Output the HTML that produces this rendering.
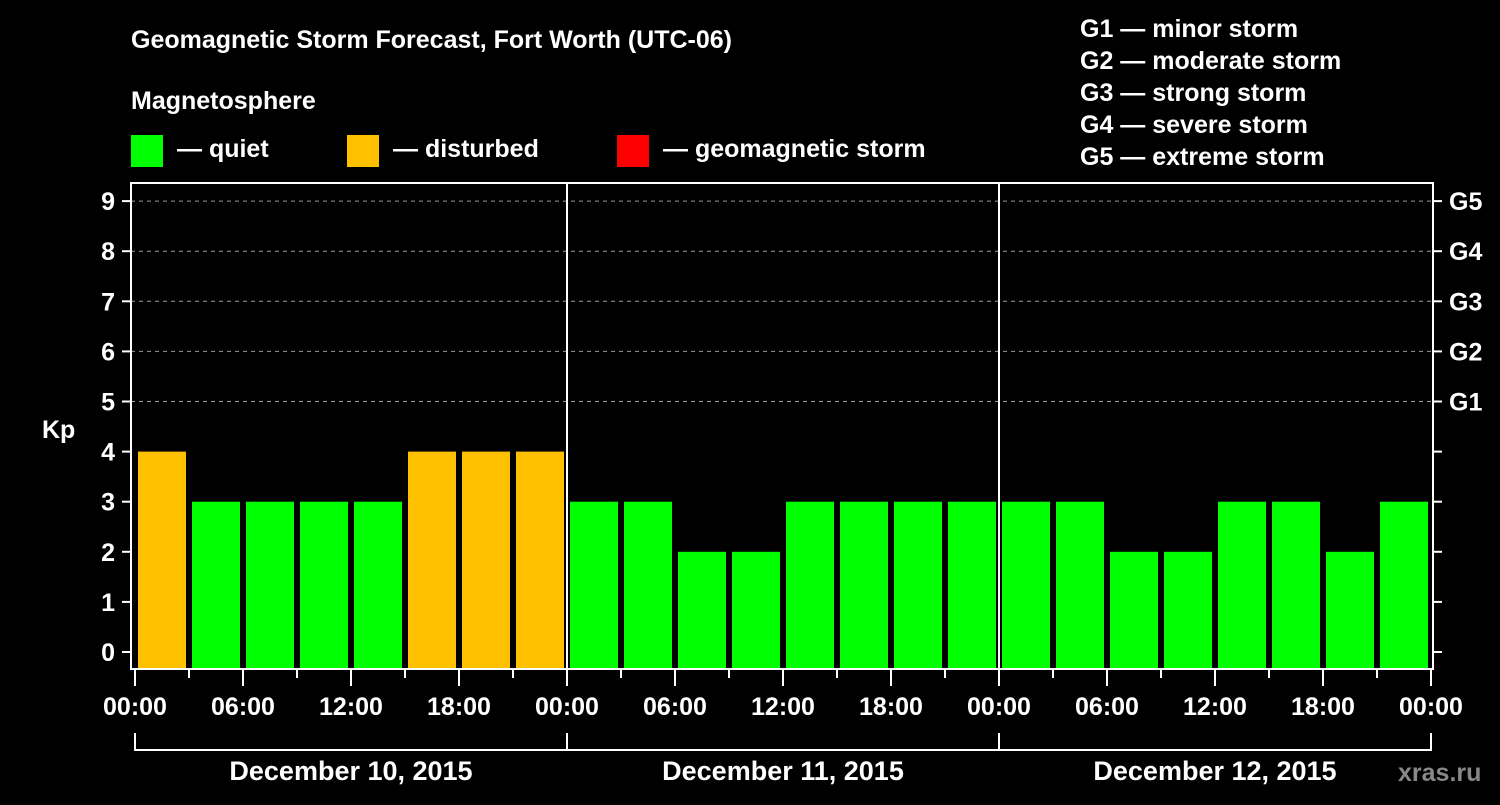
<!DOCTYPE html>
<html><head><meta charset="utf-8"><style>
body{margin:0;background:#000;width:1500px;height:800px;overflow:hidden}
text{font-family:"Liberation Sans",Arial,sans-serif;font-weight:bold;fill:#fff}
</style></head><body>
<svg id="chart" width="1500" height="800" xmlns="http://www.w3.org/2000/svg">
<rect width="1500" height="800" fill="#000"/>
<text x="131" y="48" font-size="25">Geomagnetic Storm Forecast, Fort Worth (UTC-06)</text>
<text x="131" y="109" font-size="25">Magnetosphere</text>
<g>
<rect x="131" y="135" width="32" height="32" fill="#00ff00"/>
<text x="177" y="157" font-size="25">— quiet</text>
<rect x="347" y="135" width="32" height="32" fill="#ffc000"/>
<text x="393" y="157" font-size="25">— disturbed</text>
<rect x="617" y="135" width="32" height="32" fill="#ff0000"/>
<text x="663" y="157" font-size="25">— geomagnetic storm</text>
</g>
<g font-size="25">
<text x="1080" y="37">G1 — minor storm</text>
<text x="1080" y="69">G2 — moderate storm</text>
<text x="1080" y="101">G3 — strong storm</text>
<text x="1080" y="133">G4 — severe storm</text>
<text x="1080" y="165">G5 — extreme storm</text>
</g>
<g id="plot"></g>
<text x="42" y="438" font-size="25">Kp</text>
<text x="1398" y="781" font-size="25" fill="#888" style="fill:#888">xras.ru</text>
</svg>
<script>
const days=["December 10, 2015","December 11, 2015","December 12, 2015"];
const kpValues=[4,3,3,3,3,4,4,4, 3,3,2,2,3,3,3,3, 3,3,2,2,3,3,2,3];
const yTicks=[0,1,2,3,4,5,6,7,8,9];
const gLabels=["G1","G2","G3","G4","G5"];
const hourLabels=["00:00","06:00","12:00","18:00"];
const NS="http://www.w3.org/2000/svg";
const plot=document.getElementById('plot');
const X0=135,dayW=432,L=131,R=1433,T=183,B=669;
const xPos=h=>X0+h*dayW/24;
const yPos=v=>652-v*50.1;
function mk(tag,a,p){const e=document.createElementNS(NS,tag);for(const k in a)e.setAttribute(k,a[k]);(p||plot).appendChild(e);return e;}
// grid
for(let v=5;v<=9;v++){
  const l=mk('line',{x1:L,x2:R,y1:yPos(v),y2:yPos(v),stroke:'#999','stroke-dasharray':'4,4','stroke-width':1});
  
  
}
// bars
kpValues.forEach((v,i)=>{
  const x=xPos(i*3)+3,w=xPos(3)-xPos(0)-6;
  const c=v>=5?'#ff0000':(v>=4?'#ffc000':'#00ff00');
  const r=mk('rect',{x:x,y:yPos(v),width:w,height:B-yPos(v),fill:c});
  
  
});
// day separators
for(let d=1;d<days.length;d++){
  const l=mk('line',{x1:xPos(d*24),x2:xPos(d*24),y1:T,y2:B,stroke:'#fff','stroke-width':2});
  
  
}
// frame
const f=mk('rect',{x:L,y:T,width:R-L,height:B-T,fill:'none',stroke:'#fff','stroke-width':2});


// y ticks
yTicks.forEach(v=>{
  const y=yPos(v);
  mk('line',{x1:L-9,x2:L,y1:y,y2:y,stroke:'#fff','stroke-width':2});
  mk('line',{x1:R,x2:R+9,y1:y,y2:y,stroke:'#fff','stroke-width':2});
  const t=mk('text',{x:L-16,y:y+9,'font-size':25,'text-anchor':'end'});
  t.textContent=v;
  
  
});
gLabels.forEach((g,i)=>{
  const t=mk('text',{x:1449,y:yPos(i+5)+9,'font-size':25});
  t.textContent=g;
  
  
});
// x ticks
for(let h=0;h<=days.length*24;h+=3){
  const major=h%6===0;
  mk('line',{x1:xPos(h),x2:xPos(h),y1:B+1,y2:major?B+17:B+9,stroke:'#fff','stroke-width':2});
  if(major){
    const t=mk('text',{x:xPos(h),y:715,'font-size':25,'text-anchor':'middle'});
    t.textContent=hourLabels[(h/6)%4];
    
    
  }
}
// day brackets
days.forEach((d,i)=>{
  const a=xPos(i*24),b=xPos((i+1)*24);
  mk('path',{d:`M${a} 733V750H${b}`+(i===days.length-1?'V733':''),stroke:'#fff','stroke-width':2,fill:'none'});
  if(i>0)mk('line',{x1:a,x2:a,y1:733,y2:750,stroke:'#fff','stroke-width':2});
  const t=mk('text',{x:(a+b)/2,y:780,'font-size':27,'text-anchor':'middle'});
  t.textContent=d;
  
  
});
</script>
</body></html>
